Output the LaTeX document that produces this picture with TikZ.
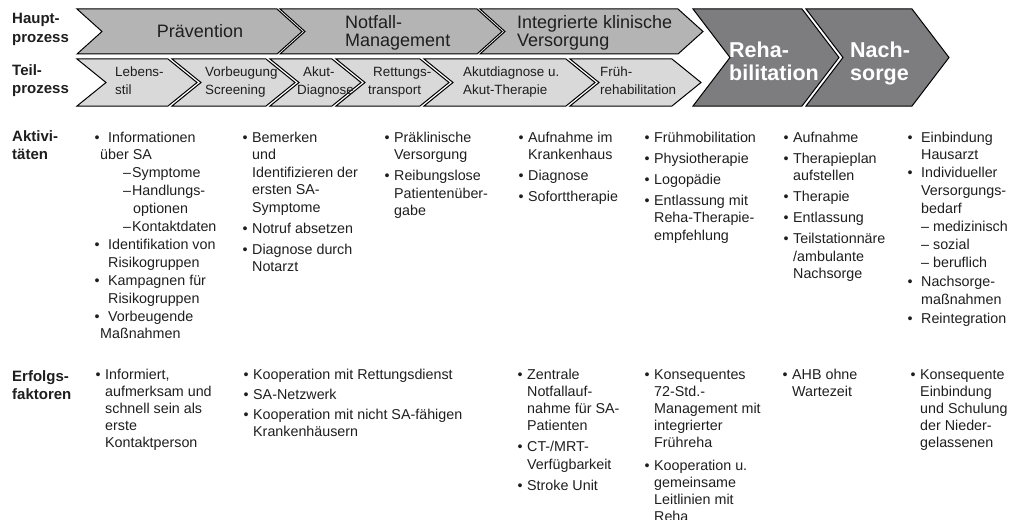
\documentclass[tikz,border=0pt]{standalone}
\usepackage{fontspec}
\setmainfont{Liberation Sans}

\definecolor{hauptfill}{HTML}{B4B4B4}
\definecolor{teilfill}{HTML}{D9D9D9}
\definecolor{darkfill}{HTML}{7D7D7F}
\definecolor{txt}{HTML}{1E1E1E}

% chevron: x-left, x-right (top corners), y-top, y-bottom, point depth, style
\newcommand\chev[6]{%
  \draw[#6] (#1,#3) -- (#2,#3) -- ({#2+#5},{(#3+#4)/2}) -- (#2,#4)
            -- (#1,#4) -- ({#1+#5},{(#3+#4)/2}) -- cycle;}
% bullets hanging left of the text column
\newcommand\bul{\llap{\textbullet\hspace{4.5pt}}}
\newcommand\bulw{\llap{\textbullet\hspace{8.5pt}}}
% indented sub-item with a leading dash
\newcommand\dashitem[1]{\hspace*{15pt}–\hspace{1pt}#1}
% stacked lines, baseline on the first line
\newcommand\lns[2][l]{\begin{tabular}[t]{@{}#1@{}}#2\end{tabular}}

\tikzset{
  haupt/.style={fill=hauptfill, draw=black, line width=1pt},
  teil/.style={fill=teilfill, draw=black, line width=1pt},
  dunkel/.style={fill=darkfill, draw=black, line width=1pt},
  txtbase/.style={inner sep=0pt, anchor=base west, text=txt},
  htext/.style={txtbase, font=\fontsize{18}{18}\selectfont},
  ttext/.style={txtbase, font=\fontsize{13.4}{18}\selectfont},
  dtext/.style={txtbase, text=white, font=\fontsize{21.5}{23.5}\selectfont\bfseries},
  lab/.style={txtbase, font=\fontsize{15}{18.5}\selectfont\bfseries},
  body/.style={txtbase, font=\fontsize{14.3}{17.5}\selectfont},
  bodywide/.style={txtbase, font=\fontsize{14.3}{17.9}\selectfont},
  bodyerf/.style={txtbase, font=\fontsize{14.3}{17.2}\selectfont},
}

\begin{document}
\begin{tikzpicture}[x=1pt, y=-1pt]
\useasboundingbox (0,0) rectangle (1019,519);

% ---- main process row ----
\chev{77}{277}{9}{54}{25}{haupt}
\chev{280}{477}{9}{54}{25}{haupt}
\chev{480}{678}{9}{54}{25}{haupt}
% ---- sub process row ----
\chev{77}{168}{59}{106}{29}{teil}
\chev{172}{266}{59}{106}{29}{teil}
\chev{270}{332}{59}{106}{29}{teil}
\chev{336}{420}{59}{106}{29}{teil}
\chev{424}{566}{59}{106}{29}{teil}
\chev{570}{672}{59}{106}{29}{teil}
% ---- rehabilitation and aftercare ----
\chev{693}{802}{9}{106}{37}{dunkel}
\chev{806}{912}{9}{106}{37}{dunkel}

% process labels
\node[htext, anchor=base] (praev) at (200,37.5) {Prävention};
\node[htext] (notfall) at (345,29) {\lns{Notfall-\\Management}};
\node[htext] (klinik) at (517,29) {\lns{Integrierte klinische\\Versorgung}};

\node[ttext] (lebens) at (115,76.5) {\lns{Lebens-\\stil}};
\node[ttext] (vorb) at (205,76.5) {\lns{Vorbeugung\\Screening}};
\node[ttext] (akut) at (297,76.5) {\lns{\hspace*{6pt}Akut-\\Diagnose}};
\node[ttext] (rett) at (368,76.5) {\lns{\hspace*{5pt}Rettungs-\\transport}};
\node[ttext] (akutth) at (463,76.5) {\lns{Akutdiagnose u.\\Akut-Therapie}};
\node[ttext] (frueh) at (600,76.5) {\lns{Früh-\\rehabilitation}};

\node[dtext] (reha) at (729,57) {\lns{Reha-\\bilitation}};
\node[dtext] (nach) at (850,57) {\lns{Nach-\\sorge}};

% row headings
\node[lab] (hp) at (12,24) {\lns{Haupt-\\prozess}};
\node[lab] (tp) at (12,75) {\lns{Teil-\\prozess}};
\node[lab] (akt) at (12,141) {\lns{Aktivi-\\täten}};
\node[lab] (erf) at (12,381) {\lns{Erfolgs-\\faktoren}};

% ---- activities ----
\node[bodywide] (a1) at (108,142) {\lns{%
  \bulw Informationen\\
  \hspace*{-8pt}über SA\\
  \dashitem{Symptome}\\
  \dashitem{Handlungs-}\\
  \hspace*{25pt}optionen\\
  \dashitem{Kontaktdaten}\\
  \bulw Identifikation von\\
  Risikogruppen\\
  \bulw Kampagnen für\\
  Risikogruppen\\
  \bulw Vorbeugende\\
  \hspace*{-8pt}Maßnahmen}};

\node[body] (a2) at (252,142) {\lns{%
  \bul Bemerken\\ und\\ Identifizieren der\\ ersten SA-\\ Symptome\\[3.5pt]
  \bul Notruf absetzen\\[3.5pt]
  \bul Diagnose durch\\ Notarzt}};

\node[body] (a3) at (394,142) {\lns{%
  \bul Präklinische\\ Versorgung\\[3.5pt]
  \bul Reibungslose\\ Patientenüber-\\ gabe}};

\node[body] (a4) at (528,142) {\lns{%
  \bul Aufnahme im\\ Krankenhaus\\[3.5pt]
  \bul Diagnose\\[3.5pt]
  \bul Soforttherapie}};

\node[body] (a5) at (654,142) {\lns{%
  \bul Frühmobilitation\\[3.5pt]
  \bul Physiotherapie\\[3.5pt]
  \bul Logopädie\\[3.5pt]
  \bul Entlassung mit\\ Reha-Therapie-\\ empfehlung}};

\node[body] (a6) at (793,142) {\lns{%
  \bul Aufnahme\\[3.5pt]
  \bul Therapieplan\\ aufstellen\\[3.5pt]
  \bul Therapie\\[3.5pt]
  \bul Entlassung\\[3.5pt]
  \bul Teilstationnäre\\ /ambulante\\ Nachsorge}};

\node[bodywide] (a7) at (921,142) {\lns{%
  \bulw Einbindung\\ Hausarzt\\
  \bulw Individueller\\ Versorgungs-\\ bedarf\\
  – medizinisch\\ – sozial\\ – beruflich\\[1pt]
  \bulw Nachsorge-\\ maßnahmen\\[1pt]
  \bulw Reintegration}};

% ---- success factors ----
\node[bodyerf] (e1) at (105,379) {\lns{%
  \bul Informiert,\\ aufmerksam und\\ schnell sein als\\ erste\\ Kontaktperson}};

\node[bodyerf] (e2) at (253,379) {\lns{%
  \bul Kooperation mit Rettungsdienst\\[3pt]
  \bul SA-Netzwerk\\[3pt]
  \bul Kooperation mit nicht SA-fähigen\\ Krankenhäusern}};

\node[bodyerf] (e4) at (527,379) {\lns{%
  \bul Zentrale\\ Notfallauf-\\ nahme für SA-\\ Patienten\\[4pt]
  \bul CT-/MRT-\\ Verfügbarkeit\\[4pt]
  \bul Stroke Unit}};

\node[bodyerf] (e5) at (654,379) {\lns{%
  \bul Konsequentes\\ 72-Std.-\\ Management mit\\ integrierter\\ Frühreha\\[5pt]
  \bul Kooperation u.\\ gemeinsame\\ Leitlinien mit\\ Reha}};

\node[bodyerf] (e6) at (792,379) {\lns{%
  \bul AHB ohne\\ Wartezeit}};

\node[bodyerf] (e7) at (920,379) {\lns{%
  \bul Konsequente\\ Einbindung\\ und Schulung\\ der Nieder-\\ gelassenen}};
\end{tikzpicture}
\end{document}
